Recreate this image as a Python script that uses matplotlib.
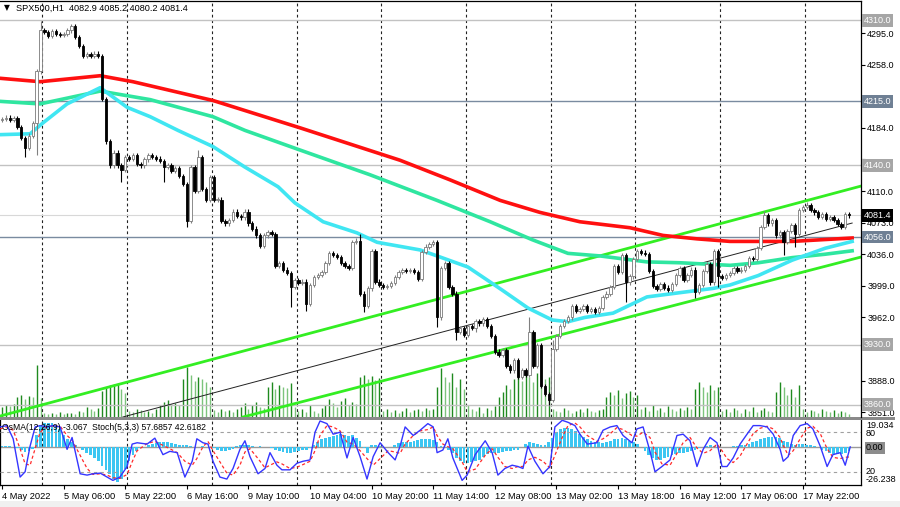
import matplotlib
matplotlib.use("Agg")
import matplotlib.pyplot as plt
from matplotlib.patches import Rectangle
import numpy as np

plt.rcParams["font.family"] = ["Liberation Sans", "DejaVu Sans"]

# ---- data (H1 bars, 4 May 14:00 .. 18 May) ----
symbol_text = "SPX500,H1  4082.9 4085.2 4080.2 4081.4"
osc_text = "OsMA(12,26,9) -3.067  Stoch(5,3,3) 57.6857 42.6182"

first_open = 4193.0
closes = [
    4194, 4196, 4193, 4195, 4185, 4172, 4160, 4175, 4190, 4250,
    4298, 4296, 4292, 4297, 4294, 4293, 4294, 4298, 4303, 4290,
    4280, 4268, 4270, 4268, 4271, 4268, 4218, 4168, 4140, 4155,
    4140, 4135, 4150, 4148, 4152, 4142, 4140, 4147, 4152, 4150,
    4148, 4145, 4138, 4140, 4134, 4137, 4128, 4118, 4075, 4138,
    4110, 4150, 4112, 4100, 4126, 4100, 4100, 4075, 4072, 4076,
    4086, 4081, 4079, 4086, 4072, 4066, 4058, 4046, 4058, 4062,
    4060, 4022, 4026, 4018, 4014, 3998, 4006, 4002, 4004, 3978,
    4000, 4009, 4012, 4015, 4026, 4037, 4035, 4033, 4026, 4022,
    4020, 4050, 4052, 3990, 3975, 3996, 4040, 4004, 4000, 3998,
    3999, 4002, 4009, 4015, 4017, 4016, 4017, 4015, 4007, 4039,
    4045, 4048, 4050, 3962, 4020, 4026, 3998, 3990, 3945, 3950,
    3942, 3952, 3950, 3958, 3955, 3960, 3952, 3940, 3922, 3918,
    3924, 3905, 3900, 3912, 3892, 3900, 3895, 3945, 3905, 3930,
    3882, 3872, 3865, 3925, 3940, 3952, 3958, 3962, 3975, 3970,
    3972, 3975, 3970, 3972, 3968, 3973, 3986, 3990, 3998, 4022,
    4015, 4035, 4003, 4010, 4030, 4040, 4038, 4036, 4016, 3999,
    3995, 4001, 3997, 3994, 4001, 4012, 4020, 4006, 4012, 4018,
    3992, 4000, 4016, 4024, 4003, 4040, 4010, 4008, 4012, 4014,
    4020, 4016, 4018, 4022, 4032, 4030, 4043, 4068, 4082, 4072,
    4076, 4058, 4062, 4050, 4063, 4070, 4060, 4088, 4091, 4094,
    4088, 4085, 4080, 4083, 4077, 4080, 4076, 4071, 4068, 4082.9,
    4081.4,
]
wick_default = 2.5
spike_highs = {10: 4309, 51: 4158, 93: 4060, 137: 3962, 143: 3935,
               198: 4087, 209: 4097}
spike_lows = {6: 4150, 9: 4152, 31: 4120, 42: 4120, 48: 4068, 75: 3974,
              79: 3970, 94: 3968, 113: 3951, 118: 3935, 123: 3945,
              142: 3860, 162: 3980, 180: 3985, 186: 3998, 203: 4035,
              206: 4045}

volumes = [
    10, 12, 11, 13, 20, 22, 18, 21, 20, 52,
    19, 4, 3, 4, 3, 5, 3, 4, 4, 3,
    6, 5, 10, 8, 6, 9, 26, 30, 32, 33,
    34, 28, 24, 6, 5, 8, 7, 5, 6, 4,
    8, 12, 15, 17, 13, 14, 12, 38, 50, 42,
    36, 40, 38, 35, 30, 7, 5, 8, 6, 7,
    5, 8, 10, 14, 8, 12, 15, 10, 9, 30,
    35, 28, 32, 30, 29, 34, 10, 6, 8, 5,
    12, 6, 4, 9, 12, 18, 14, 10, 16, 19,
    12, 15, 13, 40, 42, 38, 41, 37, 39, 6,
    8, 5, 7, 4, 6, 9, 5, 7, 8, 6,
    9, 7, 8, 30, 49, 40, 35, 44, 30, 38,
    28, 12, 8, 6, 10, 4, 9, 7, 11, 20,
    25, 32, 28, 38, 44, 36, 42, 40, 35, 44,
    42, 38, 40, 8, 6, 5, 9, 7, 4, 6,
    8, 5, 9, 6, 5, 7, 8, 20, 25, 22,
    27, 19, 24, 26, 20, 22, 8, 10, 6, 12,
    7, 9, 5, 11, 8, 6, 9, 7, 10, 8,
    28, 35, 30, 25, 32, 27, 30, 6, 8, 5,
    9, 7, 4, 8, 6, 10, 5, 7, 9, 6,
    5, 25, 35, 30, 22, 28, 20, 32, 8, 5,
    7, 6, 4, 8, 6, 5, 7, 4, 6, 5,
    3,
]

osma = [
    0.5, 0.8, 0.5, 0, -1, -2.5, -3.5, -3, -1.5, 8,
    14, 16, 16.5, 16, 15, 12, 8, 5, 3, 1,
    0, -2, -4, -6, -8, -10, -13, -16, -19, -22,
    -24, -22, -15, -10, -6, -3, -1, 0, 1, 2,
    2.5, 3, 3, 3, 2.5, 2, 1.5, 1, 1, 0.5,
    0, 0, 0.5, 0, -0.5, -1, -2.5, -3, -3, -2,
    -1.5, 0.5, 1, 1, 1, 0.5, 0, 0.5, 0, -0.5,
    -1, -2, -3, -3.5, -4, -4, -3.5, -3, -2.5, -2,
    -1, 1, 3, 5, 6, 7, 7.5, 8, 8.5, 8,
    7.5, 8, 6, 4, -1, -4, 1, 1, 0.5, -0.5,
    -0.5, 0, 1, 2.5, 3, 3, 3.5, 4, 4.5, 5,
    5, 5, 4.5, 3, 0.5, -0.5, -2, -4, -8, -10,
    -11, -11, -10.5, -10, -9, -7, -5, -4.5, -4, -4,
    -3.5, -3, -3, -2.5, -2, 0, 2, 3, 2.5, 2,
    1.5, 1, 3, 6, 10, 12, 13, 13, 12, 11,
    9, 7, 5, 4, 3, 3, 2.5, 3, 4, 5,
    5.5, 6, 5.5, 4, 3, 2, 0, -3, -6, -8,
    -9, -9, -8, -7, -6, -5, -4, -4, -3.5, -3,
    -2, -1, -0.5, 0.5, 1, 0.5, -0.5, -0.5, 0, 0,
    0.5, 0.5, 1, 1, 2, 3, 4, 5, 6, 7,
    7, 7, 6, 4, 3, 2, 1.5, 2, 2, 1.5,
    1, 0.5, 0, -2, -3, -4, -5, -5, -5, -4.5,
    -3.067,
]

stoch_pos = [
    -0.5, 1.3, 2.9, 4.7, 6.0, 7.3, 8.6, 9.9, 11.7, 13.2,
    15.1, 16.9, 18.2, 20.3, 22.1, 23.6, 25.5, 27.3, 28.8, 30.6,
    32.5, 33.8, 35.1, 37.7, 39.7, 41.8, 43.6, 45.5, 47.5, 49.4,
    50.6, 52.2, 53.5, 54.8, 56.6, 58.4, 60.0, 61.8, 63.1, 64.4,
    66.5, 68.3, 69.6, 71.4, 72.7, 74.8, 76.6, 78.2, 80.0, 81.3,
    82.6, 84.4, 86.0, 87.8, 89.6, 91.2, 93.0, 94.8, 96.4, 98.2,
    100.3, 102.1, 103.4, 104.7, 106.8, 108.6, 110.6, 112.0, 113.0, 114.5,
    115.8, 117.1, 119.5, 120.8, 122.9, 125.5, 127.3, 128.8, 130.6, 132.5,
    134.0, 135.3, 136.6, 138.4, 140.5, 142.3, 143.6, 145.5, 147.0, 148.8,
    150.1, 152.0, 154.5, 156.1, 158.0, 159.7, 161.3, 163.6, 164.9, 166.5,
    168.3, 169.6, 171.4, 173.5, 175.3, 176.9, 178.7, 180.5, 182.1, 183.9,
    185.7, 187.0, 188.3, 189.9, 191.7, 193.5, 195.1, 196.9, 198.7, 200.3,
    202.1, 202.9, 204.2, 205.5, 207.3, 209.1, 210.6, 212.5, 214.3, 215.8,
    217.7, 219.0, 220.3,
]
stoch_main = [
    88, 90, 70, 12, 20, 59, 88, 90, 88, 90,
    88, 54, 72, 17, 15, 17, 18, 12, 7, 12,
    28, 62, 64, 62, 71, 46, 51, 49, 12, 36,
    70, 64, 62, 36, 12, 9, 25, 54, 67, 43,
    17, 25, 49, 30, 23, 23, 33, 36, 38, 80,
    97, 93, 77, 80, 41, 72, 43, 9, 43, 64,
    49, 38, 59, 88, 75, 83, 93, 88, 49, 53,
    70, 41, 7, 15, 46, 67, 49, 15, 25, 30,
    28, 25, 59, 36, 17, 28, 88, 98, 95, 90,
    77, 62, 64, 83, 88, 90, 75, 64, 85, 88,
    51, 20, 28, 38, 75, 77, 67, 28, 54, 72,
    64, 28, 28, 41, 62, 77, 90, 90, 88, 77,
    54, 36, 43, 75, 90, 93, 85, 59, 28, 46,
    49, 30, 57.7,
]
stoch_signal = [
    85, 88, 83, 55, 32, 30, 55, 80, 89, 89,
    89, 75, 68, 45, 25, 16, 17, 15, 11, 10,
    16, 35, 52, 63, 66, 60, 55, 49, 36, 30,
    40, 58, 66, 52, 35, 18, 15, 30, 50, 55,
    40, 26, 30, 35, 32, 25, 27, 31, 36, 52,
    75, 90, 88, 82, 65, 62, 52, 40, 30, 40,
    52, 50, 48, 62, 75, 82, 84, 88, 75, 62,
    58, 55, 35, 20, 24, 45, 55, 42, 28, 25,
    28, 28, 38, 42, 36, 26, 45, 72, 90, 94,
    88, 75, 66, 70, 78, 87, 84, 75, 74, 80,
    72, 50, 32, 30, 48, 64, 72, 56, 48, 52,
    62, 52, 40, 34, 44, 62, 78, 86, 89, 85,
    72, 60, 45, 52, 70, 86, 89, 78, 55, 42,
    40, 42, 42.6,
]

# moving averages (bar position, price)
ma_red_pos = [-0.5, 9.9, 25.5, 34.0, 54.8, 77.4, 103.4, 116.4, 129.4,
              139.7, 150.1, 163.1, 171.7, 180.5, 189.1, 205.2, 220.8]
ma_red = [4242, 4238, 4245, 4238, 4216, 4184, 4146, 4123, 4099,
          4085, 4074, 4067, 4058, 4054, 4051, 4051, 4055]
ma_teal_pos = [-0.5, 9.9, 25.5, 38.5, 54.8, 63.1, 77.4, 95.6, 113.0, 126.8,
               137.7, 147.0, 155.3, 167.5, 176.1, 189.1, 196.4, 205.2,
               213.8, 220.8]
ma_teal = [4215, 4212, 4227, 4217, 4197, 4181, 4158, 4129, 4099, 4074,
           4053, 4037, 4034, 4027, 4026, 4023, 4026, 4032, 4036, 4040]
ma_cyan_pos = [-0.5, 7.3, 10.7, 16.9, 25.5, 32.5, 38.5, 45.7, 54.8, 63.1,
               71.7, 76.1, 83.4, 92.2, 97.4, 108.6, 113.0, 121.0, 129.9,
               136.6, 142.9, 147.0, 151.4, 158.7, 167.5, 176.1, 184.7,
               189.1, 196.4, 205.2, 213.8, 220.8]
ma_cyan = [4176, 4177, 4190, 4212, 4231, 4208, 4197, 4181, 4162, 4138,
           4115, 4096, 4074, 4061, 4050, 4041, 4034, 4021, 3994,
           3973, 3959, 3957, 3962, 3967, 3986, 3991, 3996,
           4000, 4011, 4029, 4043, 4051]

# trend channel (start bar, end bar), (start price, end price)
channel_upper = ([-0.5, 223.1], [3846.5, 4115.8])
channel_lower = ([62.6, 223.1], [3845.4, 4032.7])
channel_mid = ([31.4, 220.8], [3845.4, 4072.5])

levels_gray = [4310.0, 4140.0, 3930.0, 3860.0]
levels_slate = [4215.0, 4056.0]
last_price = 4081.4
price_ticks = [4295.0, 4258.0, 4221.0, 4184.0, 4147.0, 4110.0, 4073.0,
               4036.0, 3999.0, 3962.0, 3925.0, 3888.0, 3851.0]
# tick labels that sit under a level label on the reference
hidden_ticks = [4221.0, 4147.0, 3925.0]

time_labels = ["4 May 2022", "5 May 06:00", "5 May 22:00", "6 May 16:00",
               "9 May 10:00", "10 May 04:00", "10 May 20:00", "11 May 14:00",
               "12 May 08:00", "13 May 02:00", "13 May 18:00", "16 May 12:00",
               "17 May 06:00", "17 May 22:00"]
time_label_bars = [0, 16, 32, 48, 64, 80, 96, 112, 128, 144, 160, 176, 192, 208]
day_separators = [10.5, 32.5, 54.5, 76.5, 98.5, 120.5, 142.5, 164.5, 186.5, 208.5]

# ---- layout in pixels ----
W, H = 900, 507


def px_rect(x0, y0, x1, y1):
    return [x0 / W, 1 - y1 / H, (x1 - x0) / W, (y1 - y0) / H]


fig = plt.figure(figsize=(W / 100, H / 100), dpi=100)
fig.patch.set_facecolor("white")

ax = fig.add_axes(px_rect(0, 1, 861, 417))
axo = fig.add_axes(px_rect(0, 419, 861, 485), sharex=ax)

xlim = (-0.52, 223.1)
ax.set_xlim(*xlim)
ax.set_ylim(3845.4, 4332.5)

# volume on its own scale behind the candles
axv = ax.twinx()
axv.set_ylim(0, max(volumes) * 8.0)
axv.axis("off")
ax.set_zorder(2)
axv.set_zorder(1)
ax.patch.set_visible(False)
ax.yaxis.tick_right()

n = len(closes)
xs = np.arange(n)
vol = np.array(volumes, dtype=float)
vol_colors = ["#1f8a1f" if i == 0 or vol[i] >= vol[i - 1] else "#7cc47c" for i in range(n)]
axv.vlines(xs, 0, vol, colors=vol_colors, lw=1.0)

# grid / levels
for b in day_separators:
    ax.axvline(b, color="#222222", lw=0.8, ls=(0, (2.5, 2.5)), zorder=1)
    axo.axvline(b, color="#222222", lw=0.8, ls=(0, (2.5, 2.5)), zorder=1)
for lv in levels_gray:
    ax.axhline(lv, color="#c2c2c2", lw=1.0, zorder=1)
for lv in levels_slate:
    ax.axhline(lv, color="#7a8ba0", lw=1.0, zorder=1)
ax.axhline(last_price, color="#d8d8d8", lw=0.8, zorder=1)

# channel
ax.plot(*channel_upper, color="#33ee22", lw=2.0, zorder=2)
ax.plot(*channel_lower, color="#33ee22", lw=2.0, zorder=2)
ax.plot(*channel_mid, color="#222222", lw=0.7, zorder=2)

# moving averages
ax.plot(ma_red_pos, ma_red, color="#ff1010", lw=2.6, zorder=3)
ax.plot(ma_teal_pos, ma_teal, color="#2fe6a0", lw=2.6, zorder=3)
ax.plot(ma_cyan_pos, ma_cyan, color="#40e6f2", lw=2.6, zorder=3)

# candles
c = np.array(closes, dtype=float)
o = np.concatenate([[first_open], c[:-1]])
hi = np.array([spike_highs.get(i, max(o[i], c[i]) + wick_default) for i in range(n)])
lo = np.array([spike_lows.get(i, min(o[i], c[i]) - wick_default) for i in range(n)])
up = c >= o
ax.vlines(xs, lo, hi, colors=np.where(up, "#808080", "#000000"), lw=0.8, zorder=4)
body_h = np.maximum(np.abs(c - o), 0.7)
ax.bar(xs, body_h, bottom=np.minimum(o, c), width=0.62,
       color=np.where(up, "#ffffff", "#000000"),
       edgecolor=np.where(up, "#7a7a7a", "#000000"), lw=0.6, zorder=5)

# right price axis
ax.set_yticks(price_ticks)
ax.set_yticklabels(["" if v in hidden_ticks else f"{v:.1f}" for v in price_ticks])
ax.tick_params(axis="y", direction="out", length=3, width=0.8, labelsize=6.5,
               pad=1.5, right=True, left=False)
ax.tick_params(axis="x", bottom=False, labelbottom=False)
for s in ("left", "bottom"):
    ax.spines[s].set_visible(False)
ax.spines["right"].set_linewidth(0.9)
ax.spines["top"].set_linewidth(0.9)

ytr = ax.get_yaxis_transform()
label_box = dict(boxstyle="square,pad=0.2", ec="none")
for lv in levels_gray:
    ax.text(1.003, lv, f"{lv:.1f}", transform=ytr, fontsize=6.5, color="white",
            va="center", ha="left", zorder=6, clip_on=False,
            bbox=dict(label_box, fc="#a6a6a6"))
for lv in levels_slate:
    ax.text(1.003, lv, f"{lv:.1f}", transform=ytr, fontsize=6.5, color="white",
            va="center", ha="left", zorder=6, clip_on=False,
            bbox=dict(label_box, fc="#6f8094"))
ax.text(1.003, last_price, f"{last_price:.1f}", transform=ytr, fontsize=6.5,
        color="white", va="center", ha="left", zorder=7, clip_on=False,
        bbox=dict(label_box, fc="#000000"))

# separator between panels
fig.patches.append(Rectangle((0, 1 - 419.5 / H), 895 / W, 3 / H,
                             transform=fig.transFigure, fc="#8a8a8a", ec="none"))
fig.patches.append(Rectangle((0, 0), 1, 6 / H, transform=fig.transFigure,
                             fc="#f0f0f0", ec="none"))

fig.text(4 / W, 1 - 8 / H, "\u25bc", fontsize=5.5, va="center", ha="left",
         family=["DejaVu Sans"])
fig.text(16 / W, 1 - 8 / H, symbol_text, fontsize=6.6, va="center", ha="left")

# ---- oscillator panel ----
axo.set_ylim(-26.238, 19.034)
axs = axo.twinx()
axs.set_ylim(0, 100)
axs.axis("off")
axo.axhline(0, color="#9a9a9a", lw=1.0, zorder=1)
axs.axhline(80, color="#a0a0a0", lw=0.8, ls=(0, (3, 3)))
axs.axhline(20, color="#a0a0a0", lw=0.8, ls=(0, (3, 3)))
axo.bar(xs, osma, width=0.72, color="#3cc6f2", zorder=2)
axs.plot(stoch_pos, stoch_signal, color="#ff2a2a", lw=0.9, ls=(0, (2.5, 2)))
axs.plot(stoch_pos, stoch_main, color="#3535ff", lw=1.0)

axo.set_yticks([])
axo.yaxis.set_visible(False)
for s in ("left", "right", "top", "bottom"):
    axo.spines[s].set_linewidth(0.9)
axo.spines["top"].set_visible(False)

axo.set_xticks(time_label_bars)
axo.set_xticklabels(time_labels)
axo.tick_params(axis="x", direction="out", length=3, width=0.8, labelsize=6.7, pad=2)
for lbl in axo.get_xticklabels():
    lbl.set_horizontalalignment("left")
axo.set_xlim(*xlim)

fig.text(2 / W, 1 - 428 / H, osc_text, fontsize=6.2, va="center", ha="left")
fig.text(866 / W, 1 - 425.5 / H, "19.034", fontsize=6.5, va="center", ha="left")
fig.text(866 / W, 1 - 433 / H, "80", fontsize=6.5, va="center", ha="left")
fig.text(866 / W, 1 - 448 / H, "0.00", fontsize=6.5, va="center", ha="left",
         bbox=dict(boxstyle="square,pad=0.15", fc="#8c8c8c", ec="none"))
fig.text(866 / W, 1 - 471.5 / H, "20", fontsize=6.5, va="center", ha="left")
fig.text(866 / W, 1 - 479.5 / H, "-26.238", fontsize=6.5, va="center", ha="left")

fig.savefig("out.png", dpi=100)
